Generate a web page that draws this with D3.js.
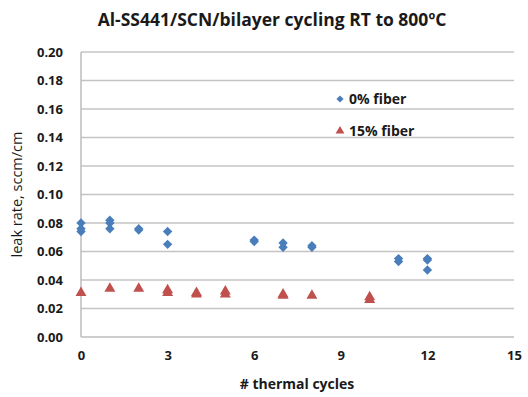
<html>
<script src="https://d3js.org/d3.v7.min.js"></script>
<style>
    body { margin: 0; background: white; }
    text { font-family: "Open Sans", "Liberation Sans", sans-serif; fill: #1a1a1a; }
    .grid line { stroke: #c4c4c4; stroke-width: 1.5px; }
    .axis path, .axis line { stroke: #bdbdbd; stroke-width: 1.5px; }
    .tick text { font-weight: bold; font-size: 13px; }
</style>
<svg width=528 height=397></svg>
<script>
    // 0% fiber (blue diamonds)
    let cyclesA = [0, 0, 0, 1, 1, 1, 2, 2, 3, 3, 6, 6, 7, 7, 8, 8, 11, 11, 12, 12, 12];
    let leakA = [0.080, 0.076, 0.074, 0.082, 0.080, 0.076, 0.076, 0.075, 0.074, 0.065,
                 0.068, 0.067, 0.066, 0.063, 0.064, 0.063, 0.055, 0.053, 0.055, 0.054, 0.047];
    // 15% fiber (red triangles)
    let cyclesB = [0, 1, 2, 3, 3, 4, 4, 5, 5, 7, 7, 8, 10, 10];
    let leakB = [0.031, 0.034, 0.034, 0.033, 0.031, 0.031, 0.030, 0.032, 0.030, 0.030, 0.029, 0.029, 0.028, 0.026];

    let xTicks = [0, 3, 6, 9, 12, 15];
    let yTicks = [0, 0.02, 0.04, 0.06, 0.08, 0.10, 0.12, 0.14, 0.16, 0.18, 0.20];

    let svg = d3.select('svg'),
        margin = { top: 52, right: 14, bottom: 60, left: 81 },
        width = +svg.attr('width') - margin.left - margin.right,
        height = +svg.attr('height') - margin.top - margin.bottom;

    let g = svg.append('g').attr('transform', 'translate(' + margin.left + ',' + margin.top + ')');

    let x = d3.scaleLinear().domain([0, 15]).range([0, 433]);
    let y = d3.scaleLinear().domain([0, 0.20]).range([height, 0]);

    // gridlines
    g.append('g').attr('class', 'grid')
      .selectAll('line')
      .data(yTicks.slice(1))
      .enter().append('line')
        .attr('x1', 0).attr('x2', width)
        .attr('y1', d => y(d)).attr('y2', d => y(d));

    g.append('g').attr('class', 'axis')
        .attr('transform', 'translate(0,' + height + ')')
        .call(d3.axisBottom(x).tickValues(xTicks).tickSize(0).tickPadding(14))
        .call(a => a.select('.domain').attr('d', 'M0,0H' + width));

    g.append('g').attr('class', 'axis')
        .call(d3.axisLeft(y).tickValues(yTicks).tickFormat(d3.format('.2f')).tickSize(0).tickPadding(18))
        .call(a => a.select('.domain').attr('d', 'M0,0V' + height));

    let blue = '#4a7ebb', red = '#c0504d';
    // excel style diamond: a square turned 45 degrees
    let diamond = d3.symbol().type(d3.symbolSquare).size(44);
    let triangle = d3.symbol().type(d3.symbolTriangle).size(52);

    g.append('g').selectAll('path')
      .data(cyclesA.map((c, i) => [c, leakA[i]]))
      .enter().append('path')
        .attr('d', diamond)
        .attr('transform', d => 'translate(' + x(d[0]) + ',' + y(d[1]) + ') rotate(45)')
        .attr('fill', blue);

    g.append('g').selectAll('path')
      .data(cyclesB.map((c, i) => [c, leakB[i]]))
      .enter().append('path')
        .attr('d', triangle)
        .attr('transform', d => 'translate(' + x(d[0]) + ',' + y(d[1]) + ')')
        .attr('fill', red);

    // legend
    let legend = svg.append('g').attr('transform', 'translate(340,0)');
    legend.append('path').attr('d', d3.symbol().type(d3.symbolSquare).size(26))
        .attr('transform', 'translate(0,99) rotate(45)').attr('fill', blue);
    legend.append('text').attr('x', 9).attr('y', 104).attr('font-size', 14).attr('font-weight', 'bold').text('0% fiber');
    legend.append('path').attr('d', d3.symbol().type(d3.symbolTriangle).size(34))
        .attr('transform', 'translate(0,131)').attr('fill', red);
    legend.append('text').attr('x', 9).attr('y', 136).attr('font-size', 14).attr('font-weight', 'bold').text('15% fiber');

    // titles
    svg.append('text').attr('x', 272).attr('y', 26).attr('text-anchor', 'middle')
        .attr('font-size', 17.5).attr('font-weight', 'bold')
        .text('Al-SS441/SCN/bilayer cycling RT to 800ºC');

    svg.append('text').attr('x', 297).attr('y', 389).attr('text-anchor', 'middle')
        .attr('font-size', 14).attr('font-weight', 'bold')
        .text('# thermal cycles');

    svg.append('text').attr('transform', 'translate(22,' + (margin.top + height / 2) + ') rotate(-90)')
        .attr('text-anchor', 'middle').attr('font-size', 14.5)
        .text('leak rate, sccm/cm');
</script>
</html>
